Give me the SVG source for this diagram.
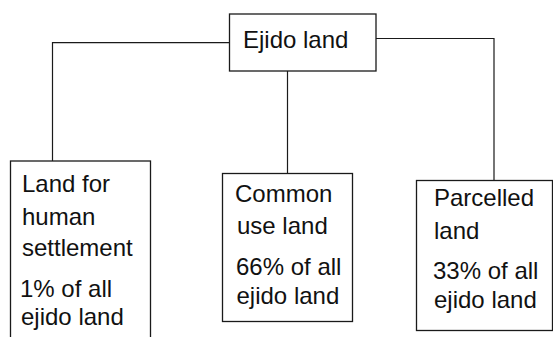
<svg xmlns="http://www.w3.org/2000/svg" width="553" height="337" viewBox="0 0 553 337">
  <style>
    .box { fill: #ffffff; stroke: #1a1a1a; stroke-width: 1.3; }
    .line { fill: none; stroke: #1a1a1a; stroke-width: 1.2; }
    text { font-family: "Liberation Sans", Arial, sans-serif; font-size: 24px; fill: #111111; }
  </style>
  <rect width="553" height="337" fill="#ffffff"/>
  <g id="connectors">
    <path class="line" d="M229.5 42.7 H52.5 V161"/>
    <path class="line" d="M287.5 71 V173.5"/>
    <path class="line" d="M376 38.5 H494 V180.5"/>
  </g>
  <g id="node-ejido">
    <rect class="box" x="229.5" y="14" width="146.5" height="57"/>
    <text x="243" y="48">Ejido land</text>
  </g>
  <g id="node-human-settlement">
    <rect class="box" x="10.5" y="161" width="140" height="200"/>
    <text x="22" y="192">Land for</text>
    <text x="22" y="224.5">human</text>
    <text x="22" y="256">settlement</text>
    <text x="20" y="297">1% of all</text>
    <text x="21" y="325">ejido land</text>
  </g>
  <g id="node-common-use">
    <rect class="box" x="222.5" y="173.5" width="130" height="148"/>
    <text x="235" y="202">Common</text>
    <text x="237" y="233.5">use land</text>
    <text x="236" y="274.5">66% of all</text>
    <text x="236.5" y="303.5">ejido land</text>
  </g>
  <g id="node-parcelled">
    <rect class="box" x="416.5" y="180.5" width="136" height="150"/>
    <text x="434" y="206">Parcelled</text>
    <text x="434" y="238.5">land</text>
    <text x="433" y="278.5">33% of all</text>
    <text x="434" y="307.5">ejido land</text>
  </g>
</svg>
